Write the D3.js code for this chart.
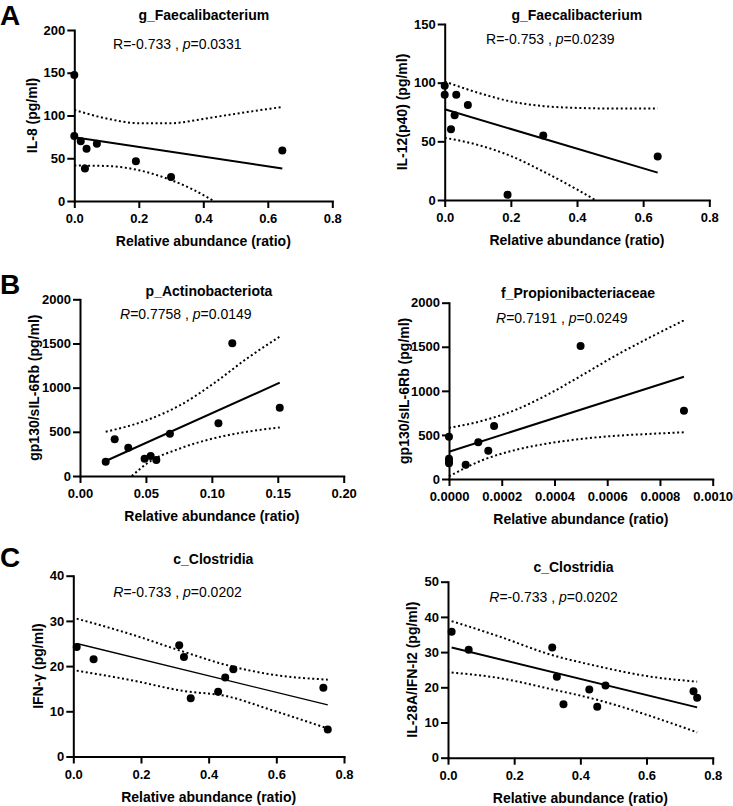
<!DOCTYPE html>
<html><head><meta charset="utf-8">
<script src="https://cdn.jsdelivr.net/npm/d3@7"></script>
<style>
body{margin:0;background:#fff}
svg{display:block}
text{font-family:Arial,"Liberation Sans",sans-serif;fill:#000}
</style>
</head><body>
<svg id="chart" width="733" height="806"></svg>
<script>
// ---------- DATA ----------
// Panel A (left): g_Faecalibacterium vs IL-8
const a1X = [0, 0, 0.02, 0.038, 0.033, 0.07, 0.191, 0.3, 0.645];
const a1Y = [147.5, 76, 70, 61, 38, 67, 46.5, 28, 59];
const a1Fit = [[0, 74.6], [0.645, 38]];
const a1Upper = [[0, 106.5], [0.1, 96.5], [0.2, 91], [0.3, 91], [0.4, 96], [0.5, 102], [0.645, 110]];
const a1Lower = [[0, 41.5], [0.1, 41], [0.2, 36], [0.3, 24.5], [0.37, 13], [0.432, 0]];

// Panel A (right): g_Faecalibacterium vs IL-12(p40)
const a2X = [0, 0, 0.035, 0.03, 0.019, 0.07, 0.19, 0.298, 0.644];
const a2Y = [97.4, 89.8, 89.8, 72.2, 60.2, 81, 4.5, 55, 37];
const a2Fit = [[0, 77.3], [0.644, 23.3]];
const a2Upper = [[0, 101], [0.1, 91.5], [0.2, 84], [0.3, 80], [0.4, 78.5], [0.5, 78], [0.644, 78]];
const a2Lower = [[0, 53], [0.1, 47], [0.2, 37.5], [0.3, 24], [0.4, 9], [0.455, 0]];

// Panel B (left): p_Actinobacteriota vs gp130/sIL-6Rb
const b1X = [0.0195, 0.0263, 0.0366, 0.049, 0.0536, 0.0579, 0.0682, 0.105, 0.1155, 0.1515];
const b1Y = [162, 415, 320, 196, 226, 181, 479, 596, 1502, 773];
const b1Fit = [[0.0195, 170], [0.1515, 1056]];
const b1Upper = [[0.0195, 501], [0.051, 634], [0.0763, 804], [0.1015, 1049], [0.1268, 1332], [0.1515, 1577]];
const b1Lower = [[0.0393, 0], [0.051, 144], [0.0763, 314], [0.1015, 427], [0.1268, 501], [0.1515, 550]];

// Panel B (right): f_Propionibacteriaceae vs gp130/sIL-6Rb
const b2X = [0, 0, 0, 0, 0.0000632, 0.000111, 0.000149, 0.000171, 0.000499, 0.000891];
const b2Y = [480, 230, 200, 178, 162, 416, 321, 601, 1509, 775];
const b2Fit = [[0, 310], [0.000891, 1160]];
const b2Upper = [[0, 580], [0.000126, 660], [0.000253, 785], [0.000379, 965], [0.000506, 1180], [0.000632, 1400], [0.000758, 1600], [0.000891, 1800]];
const b2Lower = [[0, 30], [0.000126, 213], [0.000253, 330], [0.000379, 405], [0.000506, 456], [0.000632, 490], [0.000758, 511], [0.000891, 530]];

// Panel C (left): c_Clostridia vs IFN-γ
const c1X = [0.01, 0.06, 0.313, 0.327, 0.347, 0.428, 0.449, 0.473, 0.739, 0.752];
const c1Y = [24.25, 21.5, 24.6, 22.0, 12.9, 14.3, 17.5, 19.3, 15.2, 6.0];
const c1Fit = [[0.01, 25.0], [0.752, 11.4]];
const c1Upper = [[0.01, 30.5], [0.177, 26.9], [0.325, 23.2], [0.45, 20.3], [0.581, 18.2], [0.752, 17.0]];
const c1Lower = [[0.01, 19.0], [0.177, 16.8], [0.325, 14.5], [0.45, 13.4], [0.581, 10.4], [0.752, 6.2]];

// Panel C (right): c_Clostridia vs IL-28A/IFN-l2
const c2X = [0.011, 0.0625, 0.315, 0.329, 0.349, 0.427, 0.451, 0.476, 0.742, 0.753];
const c2Y = [35.8, 30.7, 31.3, 23.0, 15.2, 19.4, 14.5, 20.5, 18.9, 17.0];
const c2Fit = [[0.011, 31.3], [0.753, 14.3]];
const c2Upper = [[0.011, 38.8], [0.156, 34.4], [0.306, 29.4], [0.457, 25.9], [0.6, 23.2], [0.753, 21.6]];
const c2Lower = [[0.011, 24.2], [0.156, 22.6], [0.306, 19.6], [0.457, 16.3], [0.6, 12.2], [0.753, 7.2]];

// Tick values / labels
const xTicksA = [0, 0.2, 0.4, 0.6, 0.8];
const xTicksB1 = [0, 0.05, 0.10, 0.15, 0.20];
const xTicksB2 = [0, 0.0002, 0.0004, 0.0006, 0.0008, 0.0010];
const xTicksC = [0, 0.2, 0.4, 0.6, 0.8];
const yTicksA1 = [0, 50, 100, 150, 200];
const yTicksA2 = [0, 50, 100, 150];
const yTicksB = [0, 500, 1000, 1500, 2000];
const yTicksC1 = [0, 10, 20, 30, 40];
const yTicksC2 = [0, 10, 20, 30, 40, 50];

const titles = ["g_Faecalibacterium", "g_Faecalibacterium", "p_Actinobacteriota", "f_Propionibacteriaceae", "c_Clostridia", "c_Clostridia"];
const yLabels = ["IL-8 (pg/ml)", "IL-12(p40) (pg/ml)", "gp130/sIL-6Rb (pg/ml)", "gp130/sIL-6Rb (pg/ml)", "IFN-γ (pg/ml)", "IL-28A/IFN-I2 (pg/ml)"];
const rValues = ["-0.733", "-0.753", "0.7758", "0.7191", "-0.733", "-0.733"];
const pValues = ["0.0331", "0.0239", "0.0149", "0.0249", "0.0202", "0.0202"];
const xLabel = "Relative abundance (ratio)";
const panelLetters = ["A", "B", "C"];

// ---------- LAYOUT ----------
const panels = [
  {x:a1X, y:a1Y, fit:a1Fit, up:a1Upper, lo:a1Lower, xt:xTicksA, xf:".1f", yt:yTicksA1, rItal:false, fitW:2,
   box:{x0:74.3, x1:332.3, yT:30, yB:201}, titleX:203.8, titleY:19.5, statX:113, statY:49, ylabX:37.3},
  {x:a2X, y:a2Y, fit:a2Fit, up:a2Upper, lo:a2Lower, xt:xTicksA, xf:".1f", yt:yTicksA2, rItal:false, fitW:2,
   box:{x0:444.7, x1:709.3, yT:24, yB:200}, titleX:576.8, titleY:19.5, statX:486, statY:44, ylabX:406.7},
  {x:b1X, y:b1Y, fit:b1Fit, up:b1Upper, lo:b1Lower, xt:xTicksB1, xf:".2f", yt:yTicksB, rItal:true, fitW:2,
   box:{x0:80, x1:343.7, yT:299.3, yB:476}, titleX:209, titleY:296, statX:120, statY:319.3, ylabX:39},
  {x:b2X, y:b2Y, fit:b2Fit, up:b2Upper, lo:b2Lower, xt:xTicksB2, xf:".4f", yt:yTicksB, rItal:true, fitW:2,
   box:{x0:449, x1:712.7, yT:302.7, yB:479}, titleX:578, titleY:298.3, statX:496, statY:323.3, ylabX:408.7},
  {x:c1X, y:c1Y, fit:c1Fit, up:c1Upper, lo:c1Lower, xt:xTicksC, xf:".1f", yt:yTicksC1, rItal:true, fitW:1.3,
   box:{x0:73.3, x1:344, yT:575.7, yB:756.5}, titleX:213.3, titleY:564, statX:113.3, statY:596.7, ylabX:42.7},
  {x:c2X, y:c2Y, fit:c2Fit, up:c2Upper, lo:c2Lower, xt:xTicksC, xf:".1f", yt:yTicksC2, rItal:true, fitW:2,
   box:{x0:448, x1:712.7, yT:581.7, yB:757.7}, titleX:573.5, titleY:572.3, statX:489.3, statY:601.7, ylabX:416.7}
];
const letterPos = [{x:0, y:25}, {x:0, y:294}, {x:0, y:566.5}];

const svg = d3.select("#chart");
svg.append("rect").attr("width", 733).attr("height", 806).attr("fill", "#fff");

panels.forEach((p, i) => {
  const b = p.box;
  const xs = d3.scaleLinear().domain([p.xt[0], p.xt[p.xt.length - 1]]).range([b.x0, b.x1]);
  const ys = d3.scaleLinear().domain([p.yt[0], p.yt[p.yt.length - 1]]).range([b.yB, b.yT]);
  const g = svg.append("g");

  // CI dotted curves
  const line = d3.line().x(d => xs(d[0])).y(d => ys(d[1])).curve(d3.curveMonotoneX);
  [p.up, p.lo].forEach(arr => {
    g.append("path").attr("d", line(arr)).attr("fill", "none").attr("stroke", "#000")
      .attr("stroke-width", 2).attr("stroke-dasharray", "2,2.6");
  });
  // Fit line
  g.append("path").attr("d", d3.line().x(d => xs(d[0])).y(d => ys(d[1]))(p.fit))
    .attr("fill", "none").attr("stroke", "#000").attr("stroke-width", p.fitW);

  // Axes
  const xAxis = d3.axisBottom(xs).tickValues(p.xt).tickFormat(d3.format(p.xf)).tickSize(7).tickSizeOuter(0).tickPadding(6);
  const yAxis = d3.axisLeft(ys).tickValues(p.yt).tickFormat(d3.format("d")).tickSize(7).tickSizeOuter(0).tickPadding(2);
  const gx = g.append("g").attr("transform", `translate(0,${b.yB})`).call(xAxis);
  const gy = g.append("g").attr("transform", `translate(${b.x0},0)`).call(yAxis);
  [gx, gy].forEach(ax => {
    ax.select(".domain").attr("stroke", "#000").attr("stroke-width", 2).attr("stroke-linecap", "square");
    ax.selectAll(".tick line").attr("stroke", "#000").attr("stroke-width", 2);
    ax.selectAll(".tick text").attr("font-family", 'Arial,"Liberation Sans",sans-serif')
      .attr("font-size", 13).attr("font-weight", "bold").attr("fill", "#000");
  });

  // Points
  g.selectAll("circle.pt").data(p.x.map((v, k) => [v, p.y[k]])).enter().append("circle")
    .attr("class", "pt").attr("cx", d => xs(d[0])).attr("cy", d => ys(d[1])).attr("r", 4).attr("fill", "#000");

  // Title
  g.append("text").attr("x", p.titleX).attr("y", p.titleY).attr("text-anchor", "middle")
    .attr("font-size", 14).attr("font-weight", "bold").text(titles[i]);
  // Stat text
  const st = g.append("text").attr("x", p.statX).attr("y", p.statY).attr("font-size", 14);
  st.append("tspan").attr("font-style", p.rItal ? "italic" : "normal").text("R");
  st.append("tspan").text("=" + rValues[i] + " , ");
  st.append("tspan").attr("font-style", "italic").text("p");
  st.append("tspan").text("=" + pValues[i]);
  // X label
  g.append("text").attr("x", (b.x0 + b.x1) / 2).attr("y", b.yB + 45).attr("text-anchor", "middle")
    .attr("font-size", 14).attr("font-weight", "bold").text(xLabel);
  // Y label
  g.append("text").attr("transform", `translate(${p.ylabX},${(b.yT + b.yB) / 2}) rotate(-90)`)
    .attr("text-anchor", "middle").attr("font-size", 14).attr("font-weight", "bold").text(yLabels[i]);
});

panelLetters.forEach((L, k) => {
  svg.append("text").attr("x", letterPos[k].x).attr("y", letterPos[k].y)
    .attr("font-size", 28).attr("font-weight", "bold").text(L);
});
</script>
</body></html>
